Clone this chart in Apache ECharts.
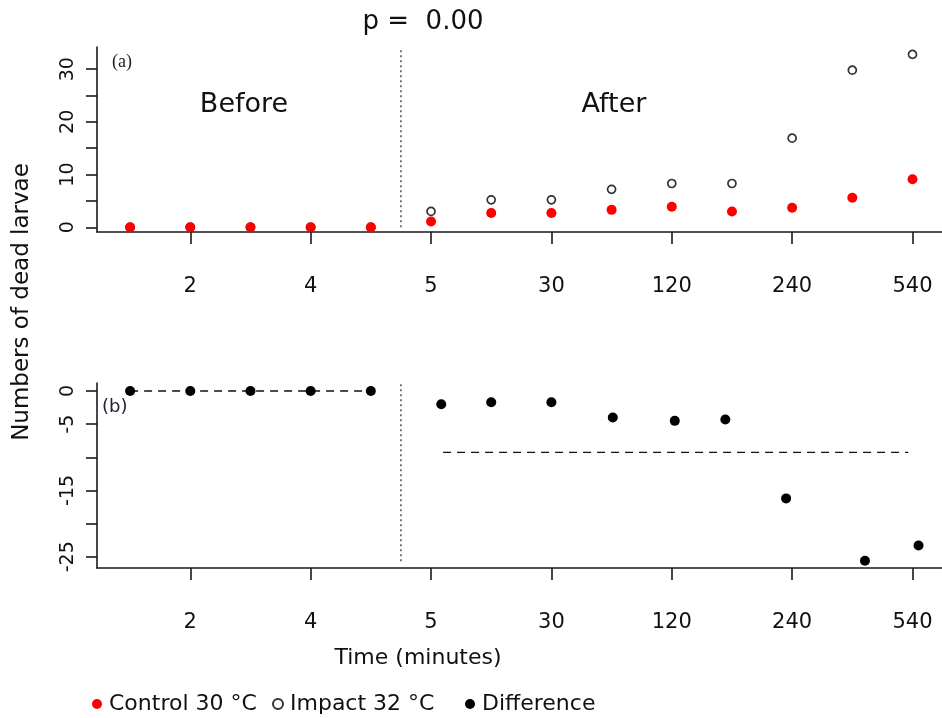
<!DOCTYPE html>
<html>
<head>
<meta charset="utf-8">
<script src="https://cdn.jsdelivr.net/npm/echarts@6/dist/echarts.min.js"></script>
<style>
  html, body { margin: 0; padding: 0; background: #fff; }
  #chart { width: 942px; height: 718px; }
</style>
</head>
<body>
<div id="chart"></div>
<script>
// ---------- data ----------
const timeIndex   = [1, 2, 3, 4, 5, 6, 7, 8, 9, 10, 11, 12, 13, 14];
const control     = [0, 0, 0, 0, 0, 1.1, 2.7, 2.7, 3.3, 3.9, 3.0, 3.7, 5.6, 9.1];
const impact      = [0, 0, 0, 0, 0, 3.0, 5.2, 5.2, 7.2, 8.3, 8.3, 16.9, 29.8, 32.8];
const diffX       = [1, 2, 3, 4, 5, 6.17, 7, 8, 9.02, 10.05, 10.89, 11.9, 13.21, 14.1];
const difference  = [0, 0, 0, 0, 0, -2.0, -1.7, -1.7, -4.0, -4.5, -4.3, -16.2, -25.6, -23.3];
const tickPositions = [2, 4, 6, 8, 10, 12, 14];
const tickLabels    = ['2', '4', '5', '30', '120', '240', '540'];
const topYTicks   = [0, 5, 10, 15, 20, 25, 30];
const topYLabels  = [0, 10, 20, 30];
const botYTicks   = [0, -5, -10, -15, -20, -25];
const botYLabels  = [0, -5, -15, -25];
const cutoff      = 5.5;          // boundary between Before and After
const beforeRange = [1, 5];       // x extent of the "before" mean line
const afterRange  = [6.2, 13.93]; // x extent of the "after" mean line
const dividerTop  = [0, 34];
const dividerBot  = [-25.7, 1.2];
const seriesNames = ['Control 30 °C', 'Impact 32 °C', 'Difference'];

// ---------- derived ----------
const mean = a => a.reduce((s, v) => s + v, 0) / a.length;
const beforeMean = mean(difference.slice(0, 5));
const afterMean  = mean(difference.slice(5));

const FONT = 'DejaVu Sans';
const AX = '#1a1a1a';

function xAxis(grid) {
  return {
    type: 'value', gridIndex: grid, min: 0.45, max: 14.49,
    axisLine: { show: true, onZero: false, lineStyle: { color: AX, width: 1.6 } },
    axisTick: { show: true, length: 12, customValues: tickPositions, lineStyle: { color: AX, width: 1.6 } },
    axisLabel: {
      customValues: tickPositions, margin: 44, fontSize: 21, color: '#111', fontFamily: FONT,
      formatter: v => tickLabels[tickPositions.indexOf(v)]
    },
    splitLine: { show: false }
  };
}
function yAxis(grid, min, max, ticks, labels) {
  return {
    type: 'value', gridIndex: grid, min: min, max: max,
    axisLine: { show: true, onZero: false, lineStyle: { color: AX, width: 1.6 } },
    axisTick: { show: true, length: 11, customValues: ticks, lineStyle: { color: AX, width: 1.6 } },
    axisLabel: { customValues: labels, rotate: 90, margin: 19, fontSize: 19, color: '#111', fontFamily: FONT },
    splitLine: { show: false }
  };
}
function legend(name, left) {
  return {
    data: [name], left: left, top: 693, padding: 0, itemWidth: 10, itemHeight: 10,
    selectedMode: false,
    textStyle: { fontSize: 22, color: '#111', fontFamily: FONT, padding: [0, 0, 0, 2] }
  };
}

const chart = echarts.init(document.getElementById('chart'), null, { renderer: 'canvas' });
chart.setOption({
  animation: false,
  backgroundColor: '#fff',
  grid: [
    { left: 97, top: 47, width: 845, height: 185 },
    { left: 97, top: 383, width: 845, height: 185 }
  ],
  xAxis: [xAxis(0), xAxis(1)],
  yAxis: [
    yAxis(0, -0.9, 34.2, topYTicks, topYLabels),
    yAxis(1, -26.7, 1.21, botYTicks, botYLabels)
  ],
  legend: [legend(seriesNames[0], 92), legend(seriesNames[1], 272), legend(seriesNames[2], 465)],
  graphic: [
    { type: 'text', x: 423, y: 22, style: { text: 'p =  0.00', font: '26px "DejaVu Sans"', fill: '#111', align: 'center', verticalAlign: 'middle' } },
    { type: 'text', x: 244, y: 105, style: { text: 'Before', font: '27px "DejaVu Sans"', fill: '#111', align: 'center', verticalAlign: 'middle' } },
    { type: 'text', x: 614, y: 105, style: { text: 'After', font: '27px "DejaVu Sans"', fill: '#111', align: 'center', verticalAlign: 'middle' } },
    { type: 'text', x: 112, y: 62, style: { text: '(a)', font: '18px "Liberation Serif"', fill: '#222', align: 'left', verticalAlign: 'middle' } },
    { type: 'text', x: 102, y: 407, style: { text: '(b)', font: '18px "DejaVu Sans"', fill: '#223', align: 'left', verticalAlign: 'middle' } },
    { type: 'text', x: 22, y: 302, rotation: Math.PI / 2, style: { text: 'Numbers of dead larvae', font: '23px "DejaVu Sans"', fill: '#111', align: 'center', verticalAlign: 'middle' } },
    { type: 'text', x: 418, y: 658, style: { text: 'Time (minutes)', font: '22px "DejaVu Sans"', fill: '#111', align: 'center', verticalAlign: 'middle' } }
  ],
  series: [
    {
      name: seriesNames[1], type: 'scatter', xAxisIndex: 0, yAxisIndex: 0,
      symbol: 'circle', symbolSize: 8,
      itemStyle: { color: '#fff', borderColor: '#333', borderWidth: 1.7, opacity: 1 },
      data: timeIndex.map((x, i) => [x, impact[i]]), z: 2
    },
    {
      name: seriesNames[0], type: 'scatter', xAxisIndex: 0, yAxisIndex: 0,
      symbol: 'circle', symbolSize: 10,
      itemStyle: { color: '#ff0000', opacity: 1 },
      data: timeIndex.map((x, i) => [x, control[i]]), z: 3
    },
    {
      name: seriesNames[2], type: 'scatter', xAxisIndex: 1, yAxisIndex: 1,
      symbol: 'circle', symbolSize: 10,
      itemStyle: { color: '#000', opacity: 1 },
      data: diffX.map((x, i) => [x, difference[i]]), z: 3
    },
    {
      type: 'line', xAxisIndex: 1, yAxisIndex: 1, symbol: 'none', silent: true,
      lineStyle: { color: '#111', width: 1.4, type: [8, 6] },
      data: [[beforeRange[0], beforeMean], [beforeRange[1], beforeMean]], z: 2
    },
    {
      type: 'line', xAxisIndex: 1, yAxisIndex: 1, symbol: 'none', silent: true,
      lineStyle: { color: '#111', width: 1.4, type: [8, 6] },
      data: [[afterRange[0], afterMean], [afterRange[1], afterMean]], z: 2
    },
    {
      type: 'line', xAxisIndex: 0, yAxisIndex: 0, symbol: 'none', silent: true,
      lineStyle: { color: '#333', width: 1.3, type: [2, 3] },
      data: [[cutoff, dividerTop[0]], [cutoff, dividerTop[1]]], z: 1
    },
    {
      type: 'line', xAxisIndex: 1, yAxisIndex: 1, symbol: 'none', silent: true,
      lineStyle: { color: '#333', width: 1.3, type: [2, 3] },
      data: [[cutoff, dividerBot[0]], [cutoff, dividerBot[1]]], z: 1
    }
  ]
});
</script>
</body>
</html>
